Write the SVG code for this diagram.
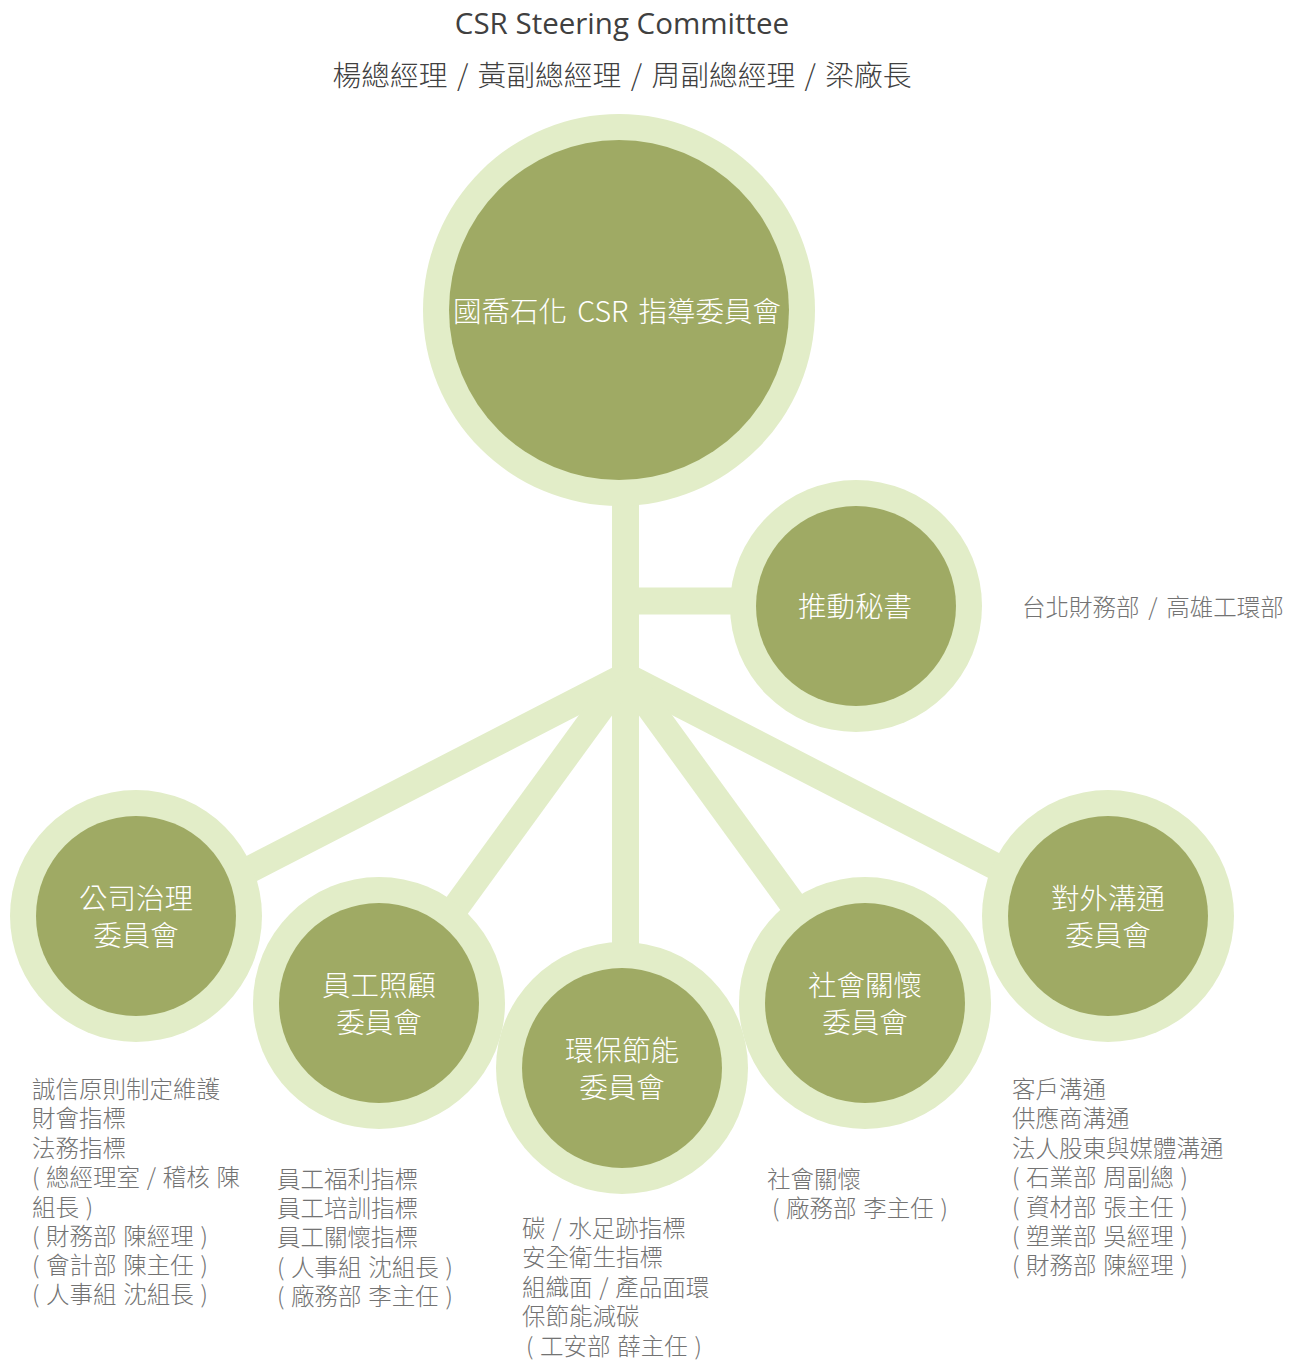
<svg xmlns="http://www.w3.org/2000/svg" width="1300" height="1360" viewBox="0 0 1300 1360">
<style>
  .outer { fill: #e2edc8; }
  .inner { fill: #9faa64; }
  .conn { stroke: #e2edc8; stroke-width: 27; fill: none; stroke-linecap: butt; }
  .node { font-family: "Noto Sans CJK TC", "Noto Sans", sans-serif; font-size: 28.5px; fill: #ffffff; text-anchor: middle; font-weight: 300; }
  .body { font-family: "Noto Sans CJK TC", "Noto Sans", sans-serif; font-size: 23.5px; fill: #737373; font-weight: 300; word-spacing: 1.5px; }
  .title { font-family: "Open Sans", "Noto Sans", sans-serif; font-size: 29.5px; fill: #404040; text-anchor: middle; }
  .subtitle { font-family: "Noto Sans CJK TC", "Noto Sans", sans-serif; font-size: 28.75px; fill: #404040; text-anchor: middle; font-weight: 300; word-spacing: 3px; }
</style>
<rect width="1300" height="1360" fill="#ffffff"/>

<g id="titles">
  <text class="title" x="622" y="34">CSR Steering Committee</text>
  <text class="subtitle" x="622" y="86">楊總經理 / 黃副總經理 / 周副總經理 / 梁廠長</text>
</g>

<g id="connectors">
  <line class="conn" x1="625.5" y1="480" x2="625.5" y2="960"/>
  <line class="conn" x1="625.5" y1="601" x2="780" y2="601"/>
  <line class="conn" x1="625.5" y1="676" x2="200" y2="895"/>
  <line class="conn" x1="625.5" y1="676" x2="1051" y2="895"/>
  <line class="conn" x1="625.5" y1="674" x2="417.5" y2="960"/>
  <line class="conn" x1="625.5" y1="674" x2="833.5" y2="960"/>
</g>

<g id="node-main">
  <circle class="outer" cx="619" cy="310" r="196"/>
  <circle class="inner" cx="619" cy="310" r="170"/>
  <text class="node" x="617" y="322" style="word-spacing:4px">國喬石化 CSR 指導委員會</text>
</g>

<g id="node-secretary">
  <circle class="outer" cx="856" cy="606" r="126"/>
  <circle class="inner" cx="856" cy="606" r="100"/>
  <text class="node" x="855" y="617">推動秘書</text>
  <text class="body" x="1022" y="616" style="word-spacing:3.5px">台北財務部 / 高雄工環部</text>
</g>

<g id="node-governance">
  <circle class="outer" cx="136" cy="916" r="126"/>
  <circle class="inner" cx="136" cy="916" r="100"/>
  <text class="node" x="136" y="909">公司治理</text>
  <text class="node" x="136" y="946">委員會</text>
  <text class="body" x="32" y="1098">誠信原則制定維護</text>
  <text class="body" x="32" y="1127">財會指標</text>
  <text class="body" x="32" y="1157">法務指標</text>
  <text class="body" x="32" y="1186">( 總經理室 / 稽核 陳</text>
  <text class="body" x="32" y="1216">組長 )</text>
  <text class="body" x="32" y="1245">( 財務部 陳經理 )</text>
  <text class="body" x="32" y="1274">( 會計部 陳主任 )</text>
  <text class="body" x="32" y="1303">( 人事組 沈組長 )</text>
</g>

<g id="node-employee">
  <circle class="outer" cx="379" cy="1003" r="126"/>
  <circle class="inner" cx="379" cy="1003" r="100"/>
  <text class="node" x="379" y="996">員工照顧</text>
  <text class="node" x="379" y="1033">委員會</text>
  <text class="body" x="277" y="1188">員工福利指標</text>
  <text class="body" x="277" y="1217">員工培訓指標</text>
  <text class="body" x="277" y="1246">員工關懷指標</text>
  <text class="body" x="277" y="1276">( 人事組 沈組長 )</text>
  <text class="body" x="277" y="1305">( 廠務部 李主任 )</text>
</g>

<g id="node-environment">
  <circle class="outer" cx="622" cy="1068" r="126"/>
  <circle class="inner" cx="622" cy="1068" r="100"/>
  <text class="node" x="622" y="1061">環保節能</text>
  <text class="node" x="622" y="1098">委員會</text>
  <text class="body" x="522" y="1237">碳 / 水足跡指標</text>
  <text class="body" x="522" y="1266">安全衛生指標</text>
  <text class="body" x="522" y="1296">組織面 / 產品面環</text>
  <text class="body" x="522" y="1325">保節能減碳</text>
  <text class="body" x="526" y="1355">( 工安部 薛主任 )</text>
</g>

<g id="node-social">
  <circle class="outer" cx="865" cy="1003" r="126"/>
  <circle class="inner" cx="865" cy="1003" r="100"/>
  <text class="node" x="865" y="996">社會關懷</text>
  <text class="node" x="865" y="1033">委員會</text>
  <text class="body" x="767" y="1188">社會關懷</text>
  <text class="body" x="772" y="1217">( 廠務部 李主任 )</text>
</g>

<g id="node-communication">
  <circle class="outer" cx="1108" cy="916" r="126"/>
  <circle class="inner" cx="1108" cy="916" r="100"/>
  <text class="node" x="1108" y="909">對外溝通</text>
  <text class="node" x="1108" y="946">委員會</text>
  <text class="body" x="1012" y="1098">客戶溝通</text>
  <text class="body" x="1012" y="1127">供應商溝通</text>
  <text class="body" x="1012" y="1157">法人股東與媒體溝通</text>
  <text class="body" x="1012" y="1186">( 石業部 周副總 )</text>
  <text class="body" x="1012" y="1216">( 資材部 張主任 )</text>
  <text class="body" x="1012" y="1245">( 塑業部 吳經理 )</text>
  <text class="body" x="1012" y="1274">( 財務部 陳經理 )</text>
</g>
</svg>
